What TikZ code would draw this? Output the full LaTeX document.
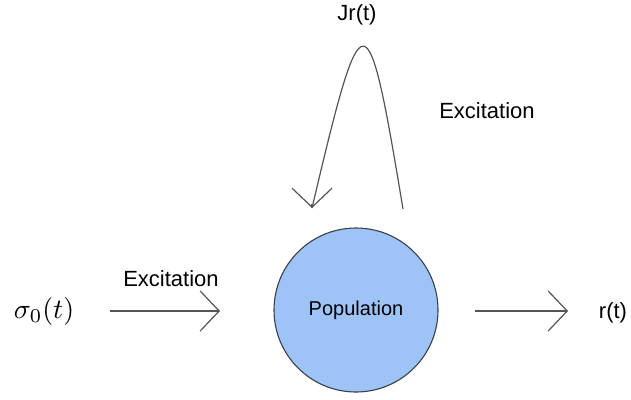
\documentclass[tikz,border=0pt]{standalone}
\usepackage{graphicx}
\usepackage{fontspec}
\setmainfont{Liberation Sans}
\usetikzlibrary{arrows.meta}
\definecolor{popfill}{HTML}{9DC3F7}
\definecolor{popedge}{HTML}{3A4048}
\definecolor{arrowgray}{HTML}{555555}
\tikzset{
  popcircle/.style={circle, draw=popedge, line width=1.1pt, fill=popfill, minimum size=164pt, inner sep=0pt},
  conn/.style={draw=arrowgray, line width=1.2pt, -{Straight Barb[length=19pt, width=40pt, line width=1.2pt]}},
  curveline/.style={draw=arrowgray, line width=1.2pt},
  lbl/.style={inner sep=0pt, font=\fontsize{22}{26}\selectfont},
}
\begin{document}
\begin{tikzpicture}[x=1pt, y=-1pt]
\useasboundingbox (0,0) rectangle (631,399);
\node[popcircle, font=\fontsize{20}{24}\selectfont] (pop) at (356,310) {Population};
\node[inner sep=0pt] (sigma) at (44,311) {\scalebox{2.8}{$\sigma_0(t)$}};
\node[lbl] (exc1) at (171,279) {Excitation};
\node[lbl] (exc2) at (487,111) {Excitation};
\node[lbl] (jr) at (357,15) {Jr(t)};
\node[lbl] (rt) at (613,313) {r(t)};
\coordinate (inA) at (110,311);
\coordinate (inB) at (220,311);
\coordinate (outA) at (475,311);
\coordinate (outB) at (568,311);
\coordinate (loopA) at (403,209);
\coordinate (loopB) at (312,208);
\draw[conn] (inA) -- (inB);
\draw[conn] (outA) -- (outB);
\draw[curveline] (loopA) .. controls (367,-8) and (363,-8) .. (loopB);
\draw[conn] ([yshift=4pt]loopB) -- (loopB);
\end{tikzpicture}
\end{document}
